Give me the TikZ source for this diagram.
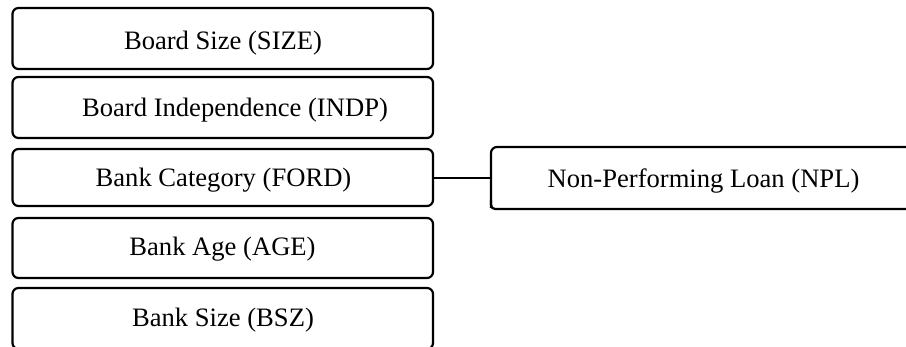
\documentclass[tikz,border=0pt]{standalone}
\usepackage{fontspec}
\setmainfont{Liberation Serif}
\begin{document}
\begin{tikzpicture}[x=1pt,y=-1pt,
  boxline/.style={draw=black,line width=2.2pt,rounded corners=6pt},
  lbl/.style={anchor=base,inner sep=0pt,font=\fontsize{26.6}{32}\selectfont},
  link/.style={draw=black,line width=2.2pt}]
\useasboundingbox (0,0) rectangle (906,347);
\clip (0,0) rectangle (906,347);
\fill[white] (0,0) rectangle (906,347);
% left boxes
\draw[boxline] (12.5,8) rectangle (433,69);
\draw[boxline] (12.5,77) rectangle (433,138);
\draw[boxline] (12.5,149) rectangle (433,206);
\draw[boxline] (12.5,218) rectangle (433,278);
\draw[boxline] (12.5,288) rectangle (433,349);
\node[lbl] (size) at (223,50) {Board Size (SIZE)};
\node[lbl] (indp) at (235,117) {Board Independence (INDP)};
\node[lbl] (ford) at (223.5,187) {Bank Category (FORD)};
\node[lbl] (age)  at (222.5,256) {Bank Age (AGE)};
\node[lbl] (bsz)  at (223,327) {Bank Size (BSZ)};
% NPL box
\coordinate (fordR) at (433,178);
\coordinate (nplL) at (491,178);
\draw[line width=2.2pt,rounded corners=6pt] (930,147) -- (491,147) -- (491,208);
\draw[line width=2.2pt,rounded corners=4pt] (491,200) -- (491,209) -- (930,209);
\node[lbl] (npl) at (703.5,188) {Non-Performing Loan (NPL)};
\draw[link] (fordR) -- (nplL);
\end{tikzpicture}
\end{document}
